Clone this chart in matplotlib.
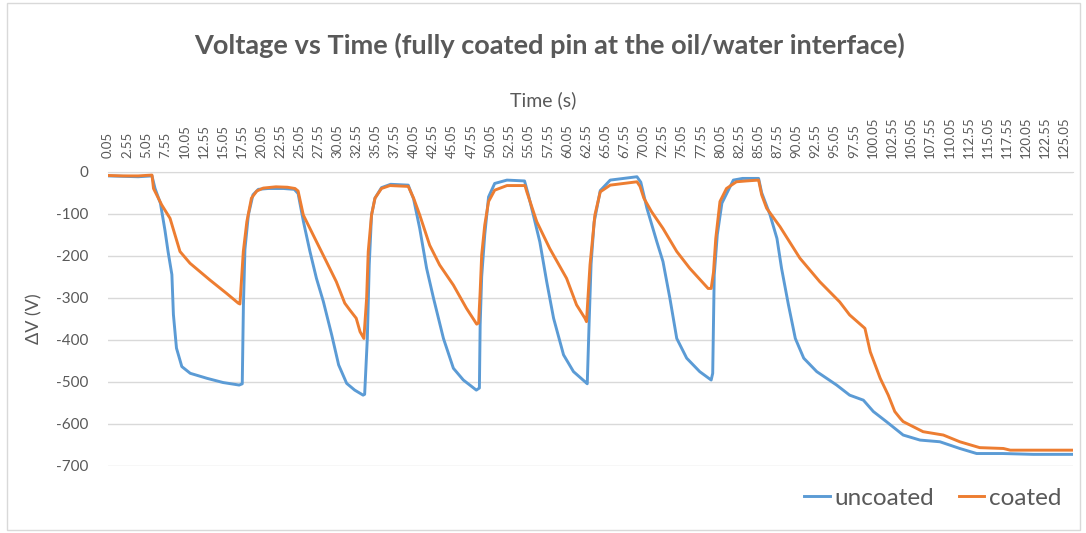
import matplotlib
matplotlib.use("Agg")
import matplotlib.pyplot as plt
from matplotlib.patches import Rectangle

# ---------------- data ----------------
t_uncoated = [0.05, 2.0, 4.0, 5.8, 6.2, 6.9, 7.5, 7.9, 8.4, 8.6, 9.0, 9.7, 10.8, 13.0, 15.1,
              17.2, 17.6, 17.75, 17.95, 18.4, 19.0, 19.7, 21.0, 23.0, 24.4, 24.9, 25.6, 26.45,
              27.3, 28.2, 29.3, 30.2, 31.25, 32.3, 33.4, 33.6, 33.95, 34.2, 34.5, 34.95, 35.8,
              37.0, 39.3, 40.0, 40.8, 41.7, 42.6, 43.9, 45.2, 46.5, 48.2, 48.6, 48.7, 48.9,
              49.3, 49.8, 50.6, 52.2, 54.5, 55.0, 55.65, 56.5, 57.4, 58.3, 59.6, 60.9, 62.4,
              62.7, 62.95, 63.2, 63.6, 64.4, 65.7, 69.2, 69.7, 70.5, 71.8, 72.6, 73.5, 74.4,
              75.7, 77.4, 78.9, 79.1, 79.3, 79.7, 80.3, 81.8, 83.0, 85.1, 85.5, 86.6, 87.5,
              88.1, 89.0, 89.9, 91.0, 92.7, 95.3, 97.0, 98.8, 100.1, 101.8, 104.0, 106.2,
              108.8, 111.4, 113.6, 117.0, 121.0, 126.2]
v_uncoated = [-10, -11, -12, -10, -40, -75, -140, -190, -245, -340, -420, -464, -480, -492, -502,
              -508, -505, -320, -185, -103, -55, -42, -40, -40, -42, -52, -119, -190,
              -254, -309, -389, -460, -504, -520, -532, -530, -397, -222, -103, -63, -38,
              -30, -32, -65, -135, -230, -301, -397, -468, -496, -520, -515, -365, -250,
              -150, -60, -28, -20, -22, -55, -103, -167, -262, -349, -436, -476, -500,
              -505, -357, -220, -120, -45, -20, -12, -25, -87, -167, -214, -301, -397,
              -444, -476, -496, -480, -246, -150, -75, -20, -16, -16, -50, -103, -159,
              -230, -317, -397, -444, -476, -508, -532, -544, -571, -595, -627, -639,
              -643, -659, -671, -671, -673, -673]

t_coated = [0.05, 2.0, 4.0, 5.8, 6.0, 7.07, 8.16, 9.46, 10.77, 13.38, 15.57, 17.08, 17.3, 17.74,
            18.2, 18.8, 19.5, 20.35, 22.0, 23.5, 24.5, 24.9, 25.58, 26.88, 28.6, 29.9, 31.0,
            31.65, 32.5, 33.0, 33.5, 33.86, 34.07, 34.5, 34.95, 35.8, 36.9, 39.3, 40.0, 40.8,
            42.1, 43.4, 45.2, 46.9, 48.25, 48.5, 48.7, 48.9, 49.3, 49.8, 50.6, 52.2, 54.56,
            54.8, 56.1, 57.8, 60.0, 61.3, 62.4, 62.6, 63.06, 63.7, 64.4, 65.7, 69.2, 69.6,
            70.1, 71.1, 72.6, 74.4, 76.1, 78.5, 78.9, 79.2, 79.5, 80.05, 80.9, 82.2, 83.5,
            85.1, 85.5, 86.15, 87.9, 90.5, 93.1, 95.7, 97.0, 99.0, 99.7, 101.0, 102.05,
            102.9, 103.6, 104.0, 106.6, 109.25, 111.4, 114.0, 117.1, 118.0, 126.2]
v_coated = [-9, -10, -10, -8, -40, -79, -111, -190, -218, -258, -290, -313, -315, -190,
            -119, -63, -46, -39, -36, -37, -40, -46, -103, -151, -214, -262, -313,
            -329, -349, -381, -397, -301, -190, -103, -63, -40, -33, -35, -63, -103,
            -175, -222, -270, -325, -363, -360, -286, -198, -127, -71, -44, -33, -33,
            -48, -119, -183, -254, -317, -349, -357, -222, -103, -48, -32, -24, -35,
            -63, -95, -135, -190, -230, -278, -278, -240, -159, -71, -40, -24, -22,
            -20, -55, -87, -131, -206, -262, -310, -341, -373, -429, -492, -532,
            -571, -587, -595, -619, -627, -643, -657, -659, -663, -663]

series_names = ["uncoated", "coated"]
x_tick_values = [0.05 + 2.5 * k for k in range(51)]
x_tick_labels = [f"{v:.2f}" for v in x_tick_values]
y_ticks = [0, -100, -200, -300, -400, -500, -600, -700]

# ---------------- style ----------------
plt.rcParams["font.family"] = ["Lato", "DejaVu Sans"]
plt.rcParams["axes.unicode_minus"] = False
TXT = "#595959"
GRID = "#D9D9D9"

fig = plt.figure(figsize=(10.86, 5.33), dpi=100)
W, H = 1086, 533
ax = fig.add_axes([108 / W, 1 - 465.7 / H, (1073 - 108) / W, (465.7 - 171.7) / H])

ax.plot(t_uncoated, v_uncoated, color="#5B9BD5", lw=2.1, label=series_names[0])
ax.plot(t_coated, v_coated, color="#ED7D31", lw=2.1, label=series_names[1])

ax.set_xlim(0.05, 126.2)
ax.set_ylim(-700, 0)
ax.set_yticks(y_ticks)
ax.set_yticklabels([str(v) for v in y_ticks], fontsize=11, color=TXT)
ax.yaxis.grid(True, color=GRID, lw=1)
ax.set_axisbelow(True)
ax.tick_params(axis="y", length=0, pad=14)

ax.xaxis.tick_top()
ax.set_xticks(x_tick_values)
ax.set_xticklabels(x_tick_labels, rotation=90, fontsize=9.5, color=TXT)
ax.tick_params(axis="x", length=0, pad=10)

for s in ["left", "right", "bottom"]:
    ax.spines[s].set_visible(False)
ax.spines["top"].set_color(GRID)

fig.text(543 / W, 1 - 100 / H, "Time (s)", ha="center", va="center", fontsize=14, color=TXT)
ax.set_ylabel("ΔV (V)", fontsize=13, color=TXT, labelpad=10)

fig.text(550 / W, 1 - 45 / H, "Voltage vs Time (fully coated pin at the oil/water interface)",
         ha="center", va="center", fontsize=19.5, fontweight="bold", color=TXT)

leg = ax.legend(loc="center right", bbox_to_anchor=(1071 / W, 1 - 498 / H),
                bbox_transform=fig.transFigure, ncol=2, frameon=False, fontsize=17.5,
                handlelength=1.05, handletextpad=0.2, columnspacing=1.0, borderaxespad=0)
for t in leg.get_texts():
    t.set_color(TXT)

fig.patches.append(Rectangle((7 / W, 3 / H), 1073 / W, 527 / H, transform=fig.transFigure,
                             fill=False, edgecolor=GRID, lw=1))

fig.savefig("out.png", dpi=100)
